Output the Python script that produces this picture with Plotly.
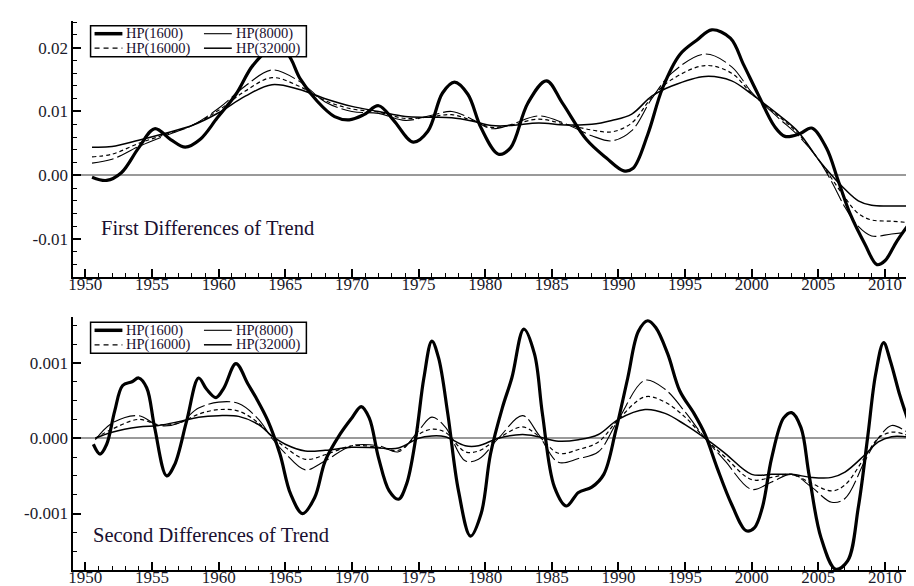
import plotly.graph_objects as go

W, H = 914, 586

# ---------------- data: first differences of trend ----------------
fd_x_1600 = [1950.5, 1951.6, 1952.7, 1954.0, 1955.2, 1956.4, 1957.5, 1958.6, 1959.9, 1961.3,
             1962.6, 1964.1, 1965.2, 1966.1, 1967.4, 1968.7, 1969.8, 1970.9, 1972.0, 1973.1,
             1974.6, 1975.7, 1976.8, 1977.7, 1978.7, 1979.7, 1981.0, 1981.9, 1983.2, 1984.6,
             1985.8, 1987.6, 1989.1, 1990.4, 1991.1, 1992.2, 1993.3, 1994.6, 1995.9, 1997.0,
             1998.4, 1999.4, 2000.5, 2001.7, 2002.5, 2003.6, 2004.5, 2005.6, 2006.5, 2007.4,
             2008.5, 2009.4, 2010.0, 2010.9, 2011.8, 2012.25]
fd_hp1600 = [-0.0003, -0.0008, 0.0004, 0.0043, 0.0073, 0.0056, 0.0044, 0.0056, 0.0090, 0.0127,
             0.0173, 0.0200, 0.0189, 0.0152, 0.0116, 0.0092, 0.0087, 0.0095, 0.0109, 0.0087,
             0.0052, 0.0069, 0.0129, 0.0146, 0.0127, 0.0074, 0.0033, 0.0043, 0.0113, 0.0148,
             0.0113, 0.0056, 0.0027, 0.0007, 0.0011, 0.0064, 0.0136, 0.0189, 0.0212, 0.0228,
             0.0215, 0.0173, 0.0126, 0.0077, 0.0061, 0.0065, 0.0074, 0.0043, -0.0009, -0.0061,
             -0.0108, -0.0140, -0.0134, -0.0103, -0.0077, -0.0069]

fd_x_smooth = [1950.5, 1952, 1954, 1956, 1958, 1960, 1962, 1964, 1966, 1968, 1970, 1972, 1974,
               1976, 1977.5, 1979, 1980.5, 1982, 1984, 1986, 1988, 1989.5, 1991, 1992.5, 1994,
               1996.5, 1998.5, 2000, 2002, 2003.5, 2005, 2006, 2007, 2008, 2009, 2010.5, 2012.25]
fd_hp8000 = [0.0019, 0.0025, 0.0045, 0.0062, 0.0078, 0.0105, 0.0140, 0.0165, 0.0148, 0.0115,
             0.0100, 0.0097, 0.0086, 0.0094, 0.0100, 0.0088, 0.0073, 0.0080, 0.0093, 0.0081,
             0.0062, 0.0054, 0.0070, 0.0120, 0.0160, 0.0190, 0.0170, 0.0130, 0.0090, 0.0062,
             0.0025, -0.0010, -0.0050, -0.0080, -0.0095, -0.0092, -0.0088]
fd_hp16000 = [0.0029, 0.0033, 0.0050, 0.0064, 0.0078, 0.0102, 0.0132, 0.0153, 0.0140, 0.0117,
              0.0104, 0.0099, 0.0089, 0.0092, 0.0095, 0.0086, 0.0075, 0.0079, 0.0088, 0.0080,
              0.0071, 0.0068, 0.0082, 0.0122, 0.0150, 0.0172, 0.0160, 0.0128, 0.0093, 0.0065,
              0.0025, -0.0005, -0.0035, -0.0060, -0.0070, -0.0072, -0.0075]
fd_hp32000 = [0.0044, 0.0045, 0.0055, 0.0066, 0.0078, 0.0098, 0.0124, 0.0142, 0.0135, 0.0120,
              0.0108, 0.0100, 0.0092, 0.0091, 0.0090, 0.0085, 0.0078, 0.0078, 0.0082, 0.0079,
              0.0080, 0.0086, 0.0096, 0.0124, 0.0140, 0.0155, 0.0148, 0.0127, 0.0095, 0.0068,
              0.0025, 0.0000, -0.0022, -0.0040, -0.0047, -0.0048, -0.0048]

# ---------------- data: second differences of trend ----------------
sd_x_1600 = [1950.6, 1951.1, 1951.6, 1952.2, 1952.8, 1953.5, 1954.0, 1954.6, 1955.2, 1956.1,
             1956.7, 1957.6, 1958.5, 1959.1, 1959.8, 1960.4, 1961.3, 1962.2, 1962.8, 1963.7,
             1964.6, 1965.4, 1966.3, 1967.2, 1968.0, 1969.1, 1970.0, 1970.7, 1971.3, 1972.0,
             1972.8, 1973.5, 1974.1, 1974.8, 1975.4, 1976.0, 1976.5, 1977.2, 1978.0, 1978.9,
             1979.7, 1980.4, 1981.3, 1982.0, 1982.9, 1983.7, 1984.3, 1985.2, 1986.1, 1987.0,
             1988.0, 1988.9, 1989.8, 1990.7, 1991.5, 1992.2, 1992.8, 1993.7, 1994.6, 1995.7,
             1996.5, 1997.4, 1998.5, 1999.6, 2000.2, 2000.8, 2001.5, 2002.4, 2003.0, 2003.7,
             2004.3, 2005.2, 2006.3, 2007.2, 2008.0, 2008.7, 2009.3, 2009.9, 2010.4, 2011.1,
             2011.5, 2012.0]
sd_hp1600 = [-0.00008, -0.00021, -0.00008, 0.00036, 0.00070, 0.00075, 0.00080, 0.00067, 0.00014, -0.00050,
             -0.00035, 0.00023, 0.00080, 0.00065, 0.00054, 0.00067, 0.00099, 0.00072, 0.00054, 0.00023,
             -0.00021, -0.00074, -0.00100, -0.00079, -0.00030, 0.00005, 0.00027, 0.00042, 0.00027, -0.00026,
             -0.00070, -0.00081, -0.00061, 0.00001, 0.00080, 0.00129, 0.00107, 0.00032, -0.00070, -0.00130,
             -0.00100, -0.00021, 0.00041, 0.00080, 0.00145, 0.00112, 0.00032, -0.00065, -0.00090, -0.00072,
             -0.00065, -0.00048, 0.00010, 0.00080, 0.00142, 0.00156, 0.00147, 0.00112, 0.00063, 0.00032,
             0.00005, -0.00039, -0.00088, -0.00123, -0.00119, -0.00092, -0.00026, 0.00027, 0.00034, 0.00014,
             -0.00048, -0.00132, -0.00174, -0.00163, -0.00092, 0.00001, 0.00085, 0.00127, 0.00103, 0.00058,
             0.00036, 0.00010]

sd_x_smooth = [1950.75, 1952, 1954, 1955.5, 1957, 1958.5, 1960, 1961.5, 1963, 1964, 1965, 1966.5,
               1968, 1970, 1972, 1973.5, 1975, 1976, 1977, 1978.5, 1979.5, 1981, 1982.8, 1984,
               1985.5, 1987, 1988.5, 1990, 1992, 1993.5, 1995, 1996.5, 1998, 2000, 2001.5, 2003,
               2004.5, 2006, 2007, 2008.5, 2009.5, 2010.5, 2011.5, 2012]
sd_hp8000 = [-0.00002, 0.00020, 0.00030, 0.00017, 0.00020, 0.00040, 0.00048, 0.00046, 0.00025, 0.00000,
             -0.00020, -0.00042, -0.00030, -0.00010, -0.00010, -0.00018, 0.00010, 0.00028, 0.00015, -0.00030,
             -0.00028, 0.00000, 0.00030, 0.00005, -0.00032, -0.00027, -0.00018, 0.00025, 0.00077, 0.00065,
             0.00035, 0.00000, -0.00030, -0.00068, -0.00058, -0.00048, -0.00065, -0.00085, -0.00080, -0.00030,
             0.00000, 0.00017, 0.00010, 0.00003]
sd_hp16000 = [0.00000, 0.00012, 0.00025, 0.00018, 0.00020, 0.00032, 0.00038, 0.00036, 0.00020, 0.00002,
              -0.00012, -0.00028, -0.00022, -0.00010, -0.00012, -0.00016, 0.00005, 0.00012, 0.00008, -0.00018,
              -0.00017, 0.00000, 0.00015, 0.00003, -0.00020, -0.00015, -0.00005, 0.00025, 0.00055, 0.00048,
              0.00028, 0.00000, -0.00025, -0.00055, -0.00052, -0.00048, -0.00060, -0.00070, -0.00062, -0.00025,
              0.00000, 0.00008, 0.00005, 0.00000]
sd_hp32000 = [0.00000, 0.00008, 0.00015, 0.00017, 0.00022, 0.00028, 0.00030, 0.00029, 0.00018, 0.00003,
              -0.00008, -0.00017, -0.00016, -0.00012, -0.00013, -0.00013, 0.00000, 0.00003, 0.00002, -0.00010,
              -0.00010, 0.00000, 0.00005, 0.00002, -0.00004, -0.00002, 0.00005, 0.00025, 0.00038, 0.00033,
              0.00018, 0.00000, -0.00020, -0.00048, -0.00048, -0.00048, -0.00052, -0.00052, -0.00045, -0.00022,
              -0.00005, 0.00002, 0.00002, 0.00001]

series_names = ["HP(1600)", "HP(8000)", "HP(16000)", "HP(32000)"]
panel_titles = ["First Differences of Trend", "Second Differences of Trend"]
x_tick_vals = [1950, 1955, 1960, 1965, 1970, 1975, 1980, 1985, 1990, 1995, 2000, 2005, 2010]
y1_tick_vals = [-0.01, 0.0, 0.01, 0.02]
y1_tick_text = ["-0.01", "0.00", "0.01", "0.02"]
y2_tick_vals = [-0.001, 0.0, 0.001]
y2_tick_text = ["-0.001", "0.000", "0.001"]

# ---------------- styles ----------------
styles = {
    "HP(1600)": dict(color="black", width=3.2, dash="solid"),
    "HP(8000)": dict(color="black", width=1.1, dash="22px,4px"),
    "HP(16000)": dict(color="black", width=1.2, dash="4px,3px"),
    "HP(32000)": dict(color="black", width=1.5, dash="solid"),
}
legend_dash = {"HP(1600)": "solid", "HP(8000)": "solid", "HP(16000)": "5px,4px", "HP(32000)": "solid"}
FONT = "Liberation Serif, Times New Roman, serif"
TXT = "#1a1a2a"


def px(x):
    return x / W


def py(y):
    return 1 - y / H


fig = go.Figure()

panels = [
    ("x", "y", [(fd_x_1600, fd_hp1600), (fd_x_smooth, fd_hp8000), (fd_x_smooth, fd_hp16000), (fd_x_smooth, fd_hp32000)]),
    ("x2", "y2", [(sd_x_1600, sd_hp1600), (sd_x_smooth, sd_hp8000), (sd_x_smooth, sd_hp16000), (sd_x_smooth, sd_hp32000)]),
]
order = [3, 2, 1, 0]  # thick line drawn last
for xa, ya, data in panels:
    for i in order:
        xs, ys = data[i]
        fig.add_trace(go.Scatter(
            x=xs, y=ys, xaxis=xa, yaxis=ya, mode="lines", name=series_names[i],
            line=dict(shape="spline", smoothing=1.0, **styles[series_names[i]]),
            showlegend=False, hoverinfo="skip"))

x_range = [1949.1, 2012.78]
common_x = dict(range=x_range, tickvals=x_tick_vals, ticks="inside", ticklen=8, tickwidth=1.5,
                tickcolor="black", showline=True, linecolor="black", linewidth=2,
                showgrid=False, zeroline=False, mirror=False, ticklabelstandoff=-9,
                minor=dict(ticks="inside", ticklen=4, dtick=1, tick0=1950, tickcolor="black", tickwidth=1.2),
                tickfont=dict(family=FONT, size=17, color=TXT))
common_y = dict(ticks="inside", ticklen=8, tickwidth=1.5, tickcolor="black", showline=True,
                linecolor="black", linewidth=2, showgrid=False, mirror=False,
                zeroline=True, zerolinecolor="#9a9a9a", zerolinewidth=1.5,
                tickfont=dict(family=FONT, size=17, color=TXT))

x_dom = [px(60.7), 1.0]
fig.update_layout(
    width=W, height=H, margin=dict(l=0, r=0, t=0, b=0),
    paper_bgcolor="white", plot_bgcolor="white", showlegend=False,
    xaxis=dict(domain=x_dom, anchor="y", **common_x),
    yaxis=dict(domain=[py(269), py(13)], anchor="x", range=[-0.01594, 0.02418],
               tickvals=y1_tick_vals, ticktext=y1_tick_text,
               minor=dict(ticks="inside", ticklen=4, dtick=0.002, tick0=0, tickcolor="black", tickwidth=1.2),
               **common_y),
    xaxis2=dict(domain=x_dom, anchor="y2", **common_x),
    yaxis2=dict(domain=[py(562), py(309)], anchor="x2", range=[-0.00175, 0.00161],
                tickvals=y2_tick_vals, ticktext=y2_tick_text,
                minor=dict(ticks="inside", ticklen=4, dtick=0.00025, tick0=0, tickcolor="black", tickwidth=1.2),
                **common_y),
)

# panel titles
fig.add_annotation(x=px(86), y=py(220), xref="paper", yref="paper", text=panel_titles[0],
                   showarrow=False, xanchor="left", yanchor="middle",
                   font=dict(family=FONT, size=20.5, color="#1a1030"))
fig.add_annotation(x=px(78), y=py(527), xref="paper", yref="paper", text=panel_titles[1],
                   showarrow=False, xanchor="left", yanchor="middle",
                   font=dict(family=FONT, size=20.5, color="#1a1030"))

# legends: two columns inside a framed box
legend_layout = [("HP(1600)", 0, 0), ("HP(8000)", 1, 0), ("HP(16000)", 0, 1), ("HP(32000)", 1, 1)]
for box_top in (17.7, 314.3):
    fig.add_shape(type="rect", xref="paper", yref="paper",
                  x0=px(78), x1=px(295), y0=py(box_top), y1=py(box_top + 31),
                  line=dict(color="black", width=1.5), fillcolor="white", layer="above")
    for name, col, row in legend_layout:
        yy = box_top + 8 + row * 14.5
        x0 = 82 if col == 0 else 192
        st = styles[name]
        fig.add_shape(type="line", xref="paper", yref="paper",
                      x0=px(x0), x1=px(x0 + 28), y0=py(yy), y1=py(yy),
                      line=dict(color="black", width=st["width"] if name != "HP(1600)" else 3.5,
                                dash=legend_dash[name]),
                      layer="above")
        fig.add_annotation(x=px(x0 + 30), y=py(yy), xref="paper", yref="paper", text=name,
                           showarrow=False, xanchor="left", yanchor="middle",
                           font=dict(family=FONT, size=14.5, color="#1a1030"))

fig.write_html("out.html")
